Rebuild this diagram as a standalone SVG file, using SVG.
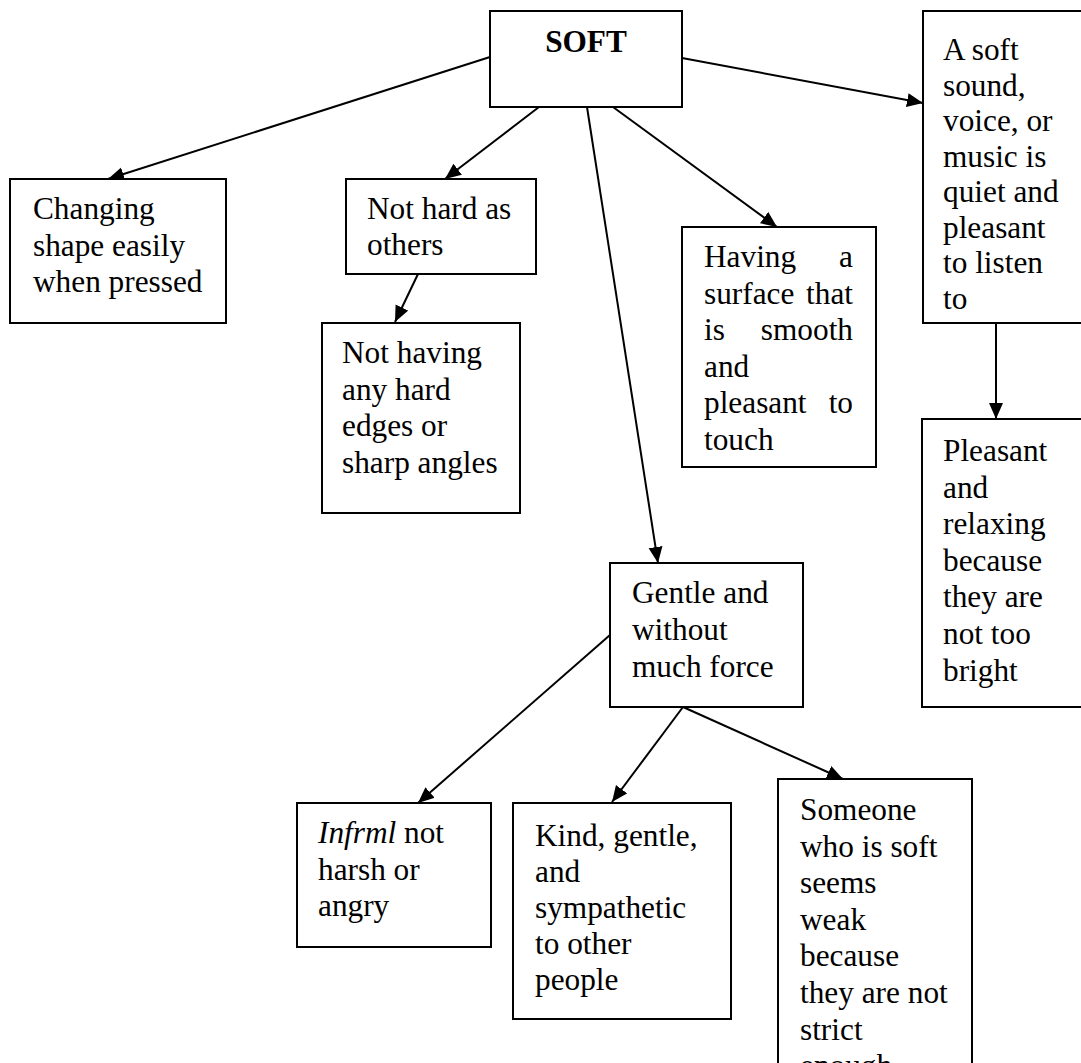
<svg xmlns="http://www.w3.org/2000/svg" width="1081" height="1063" viewBox="0 0 1081 1063">
  <style>
    .box { fill: #ffffff; stroke: #000000; stroke-width: 2; }
    .t { font-family: "Liberation Serif", "Times New Roman", serif; font-size: 31.3px; fill: #000000; }
    .title { font-weight: bold; text-anchor: middle; }
    .end { text-anchor: end; }
    .edge { stroke: #000000; stroke-width: 2; fill: none; marker-end: url(#arrow); }
  </style>
  <defs>
    <marker id="arrow" markerUnits="userSpaceOnUse" markerWidth="17" markerHeight="15" refX="16" refY="7" orient="auto">
      <path d="M0,0 L16,7 L0,14 Z" fill="#000000"/>
    </marker>
  </defs>
  <rect width="1081" height="1063" fill="#ffffff"/>

  <!-- connectors -->
  <g id="connectors">
    <line class="edge" x1="490" y1="57" x2="108" y2="179"/>
    <line class="edge" x1="539" y1="107" x2="445" y2="179"/>
    <line class="edge" x1="587" y1="107" x2="658" y2="563"/>
    <line class="edge" x1="613" y1="107" x2="777" y2="227"/>
    <line class="edge" x1="682" y1="58" x2="923" y2="103"/>
    <line class="edge" x1="418" y1="274" x2="395" y2="322"/>
    <line class="edge" x1="996" y1="323" x2="996" y2="419"/>
    <line class="edge" x1="610" y1="635" x2="418" y2="803"/>
    <line class="edge" x1="683" y1="707" x2="612" y2="802"/>
    <line class="edge" x1="683" y1="707" x2="843" y2="779"/>
  </g>

  <!-- root -->
  <g id="soft">
    <rect class="box" x="490" y="11" width="192" height="96"/>
    <text class="t title" x="586" y="52">SOFT</text>
  </g>

  <g id="changing-shape">
    <rect class="box" x="10" y="179" width="216" height="144"/>
    <text class="t" x="33" y="219">Changing</text>
    <text class="t" x="33" y="255.5">shape easily</text>
    <text class="t" x="33" y="292">when pressed</text>
  </g>

  <g id="not-hard">
    <rect class="box" x="346" y="179" width="190" height="95"/>
    <text class="t" x="367" y="219">Not hard as</text>
    <text class="t" x="367" y="255">others</text>
  </g>

  <g id="no-hard-edges">
    <rect class="box" x="322" y="323" width="198" height="190"/>
    <text class="t" x="342" y="363">Not having</text>
    <text class="t" x="342" y="399.5">any hard</text>
    <text class="t" x="342" y="436">edges or</text>
    <text class="t" x="342" y="472.5">sharp angles</text>
  </g>

  <g id="smooth-surface">
    <rect class="box" x="682" y="227" width="194" height="240"/>
    <text class="t" x="704" y="267">Having</text>
    <text class="t end" x="853" y="267">a</text>
    <text class="t" x="704" y="303.5">surface</text>
    <text class="t end" x="853" y="303.5">that</text>
    <text class="t" x="704" y="340">is</text>
    <text class="t end" x="853" y="340">smooth</text>
    <text class="t" x="704" y="376.5">and</text>
    <text class="t" x="704" y="413">pleasant</text>
    <text class="t end" x="853" y="413">to</text>
    <text class="t" x="704" y="449.5">touch</text>
  </g>

  <g id="soft-sound">
    <rect class="box" x="923" y="11" width="175" height="312"/>
    <text class="t" x="943" y="60">A soft</text>
    <text class="t" x="943" y="95.5">sound,</text>
    <text class="t" x="943" y="131">voice, or</text>
    <text class="t" x="943" y="166.5">music is</text>
    <text class="t" x="943" y="202">quiet and</text>
    <text class="t" x="943" y="237.5">pleasant</text>
    <text class="t" x="943" y="273">to listen</text>
    <text class="t" x="943" y="308.5">to</text>
  </g>

  <g id="not-too-bright">
    <rect class="box" x="922" y="419" width="176" height="288"/>
    <text class="t" x="943" y="461">Pleasant</text>
    <text class="t" x="943" y="497.6">and</text>
    <text class="t" x="943" y="534.2">relaxing</text>
    <text class="t" x="943" y="570.8">because</text>
    <text class="t" x="943" y="607.4">they are</text>
    <text class="t" x="943" y="644">not too</text>
    <text class="t" x="943" y="680.6">bright</text>
  </g>

  <g id="gentle">
    <rect class="box" x="610" y="563" width="193" height="144"/>
    <text class="t" x="632" y="603">Gentle and</text>
    <text class="t" x="632" y="640">without</text>
    <text class="t" x="632" y="677">much force</text>
  </g>

  <g id="not-harsh">
    <rect class="box" x="297" y="803" width="194" height="144"/>
    <text class="t" x="318" y="843"><tspan font-style="italic">Infrml</tspan> not</text>
    <text class="t" x="318" y="879.5">harsh or</text>
    <text class="t" x="318" y="916">angry</text>
  </g>

  <g id="kind">
    <rect class="box" x="513" y="803" width="218" height="216"/>
    <text class="t" x="535" y="846">Kind, gentle,</text>
    <text class="t" x="535" y="882">and</text>
    <text class="t" x="535" y="918">sympathetic</text>
    <text class="t" x="535" y="954">to other</text>
    <text class="t" x="535" y="990">people</text>
  </g>

  <g id="seems-weak">
    <rect class="box" x="778" y="779" width="194" height="310"/>
    <text class="t" x="800" y="820">Someone</text>
    <text class="t" x="800" y="856.6">who is soft</text>
    <text class="t" x="800" y="893.2">seems</text>
    <text class="t" x="800" y="929.8">weak</text>
    <text class="t" x="800" y="966.4">because</text>
    <text class="t" x="800" y="1003">they are not</text>
    <text class="t" x="800" y="1039.6">strict</text>
    <text class="t" x="800" y="1076.2">enough</text>
  </g>
</svg>
